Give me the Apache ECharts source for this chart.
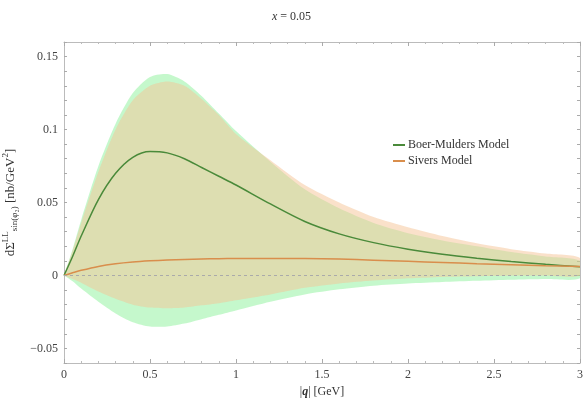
<!DOCTYPE html>
<html>
<head>
<meta charset="utf-8">
<script src="https://cdn.jsdelivr.net/npm/echarts@6/dist/echarts.min.js"></script>
<style>
  html, body { margin: 0; padding: 0; background: #fff; }
  #chart { width: 583px; height: 402px; }
</style>
</head>
<body>
<div id="chart"></div>
<script>
  // q values (GeV)
  const q = [0, 0.05, 0.1, 0.2, 0.3, 0.4, 0.5, 0.6, 0.7, 0.8, 0.9, 1.0, 1.2, 1.4, 1.6, 1.8, 2.0, 2.2, 2.4, 2.6, 2.8, 3.0];

  // Boer-Mulders model: central curve + band
  const bmMid = [0, 0.013, 0.027, 0.052, 0.070, 0.081, 0.085, 0.084, 0.080, 0.074, 0.068, 0.062, 0.049, 0.037, 0.0285, 0.0225, 0.018, 0.0145, 0.0118, 0.0095, 0.0076, 0.006];
  const bmHi  = [0, 0.018, 0.038, 0.075, 0.104, 0.125, 0.136, 0.138, 0.133, 0.123, 0.111, 0.099, 0.078, 0.059, 0.046, 0.036, 0.029, 0.024, 0.020, 0.016, 0.013, 0.010];
  const bmLo  = [0, -0.004, -0.009, -0.018, -0.026, -0.032, -0.035, -0.035, -0.033, -0.030, -0.027, -0.024, -0.018, -0.013, -0.0095, -0.007, -0.0055, -0.0045, -0.0037, -0.003, -0.0025, -0.002];

  // Sivers model: central curve + band
  const svMid = [0, 0.0018, 0.0035, 0.0062, 0.008, 0.0092, 0.010, 0.0106, 0.011, 0.0113, 0.0115, 0.0116, 0.0117, 0.0116, 0.0112, 0.0105, 0.0097, 0.0089, 0.0081, 0.0074, 0.0067, 0.0061];
  const svHi  = [0, 0.017, 0.036, 0.071, 0.100, 0.120, 0.130, 0.133, 0.130, 0.121, 0.110, 0.097, 0.079, 0.062, 0.050, 0.040, 0.033, 0.027, 0.022, 0.018, 0.015, 0.012];
  const svLo  = [0, -0.0025, -0.005, -0.011, -0.016, -0.020, -0.022, -0.0225, -0.022, -0.0205, -0.019, -0.017, -0.013, -0.0085, -0.0055, -0.0035, -0.002, -0.001, -0.0005, 0, 0, 0];

  const yLabels = [-0.05, 0, 0.05, 0.1, 0.15];

  const FONT = 'Liberation Serif';
  const pairs = ys => q.map((x, i) => [x, ys[i]]);

  // filled band between lo and hi, drawn once through the axis scales
  function band(lo, hi, color) {
    return {
      type: 'custom', silent: true, clip: true, z: 1,
      data: q.map((x, i) => [x, lo[i], hi[i]]),
      encode: { x: 0, y: [1, 2] },
      renderItem: (params, api) => {
        if (params.dataIndex !== 0) return;
        const top = q.map((x, i) => api.coord([x, hi[i]]));
        const bot = q.map((x, i) => api.coord([x, lo[i]])).reverse();
        return {
          type: 'polygon',
          shape: { points: top.concat(bot), smooth: 0.25 },
          style: { fill: color }
        };
      }
    };
  }

  const chart = echarts.init(document.getElementById('chart'));
  chart.setOption({
    animation: false,
    title: {
      text: '{i|x} = 0.05',
      left: 'center', top: 6,
      textStyle: {
        fontFamily: FONT, fontSize: 12, fontWeight: 'normal', color: '#333',
        rich: { i: { fontFamily: FONT, fontSize: 12, fontStyle: 'italic', color: '#333' } }
      }
    },
    legend: {
      data: ['Boer-Mulders Model', 'Sivers Model'],
      orient: 'vertical', left: 388, top: 134, itemGap: 4,
      itemWidth: 12, itemHeight: 2, icon: 'rect',
      textStyle: { fontFamily: FONT, fontSize: 12, color: '#333', padding: [0, 0, 0, -2] }
    },
    grid: { left: 64, right: 3, top: 42, bottom: 39, outerBoundsMode: 'none', containLabel: false },
    xAxis: [{
      type: 'value', min: 0, max: 3, interval: 0.5,
      name: '|{b|q}| [GeV]', nameLocation: 'middle', nameGap: 22,
      nameTextStyle: {
        fontFamily: FONT, fontSize: 12, color: '#333',
        rich: { b: { fontFamily: FONT, fontSize: 12, fontWeight: 'bold', fontStyle: 'italic', color: '#333' } }
      },
      axisLine: { show: true, onZero: false, lineStyle: { color: '#bbb' } },
      axisTick: { inside: true, length: 4, lineStyle: { color: '#aaa' } },
      minorTick: { show: true, splitNumber: 5, length: 2, lineStyle: { color: '#bbb' } },
      axisLabel: { fontFamily: FONT, fontSize: 12, color: '#444', margin: 6,
        formatter: v => String(Number(v.toFixed(2))) },
      splitLine: { show: false }
    }, {
      type: 'value', min: 0, max: 3, interval: 0.5, position: 'top',
      axisLine: { show: true, onZero: false, lineStyle: { color: '#bbb' } },
      axisTick: { inside: true, length: 4, lineStyle: { color: '#aaa' } },
      minorTick: { show: true, splitNumber: 5, length: 2, lineStyle: { color: '#bbb' } },
      axisLabel: { show: false }, splitLine: { show: false }
    }],
    yAxis: [{
      type: 'value', min: -0.06, max: 0.16, interval: 0.01,
      name: '{n|dΣ}{sp|LL}{sb|sin(φ₂)}{n| [nb/GeV}{sp|2}{n|]}',
      nameLocation: 'middle', nameGap: 25, nameRotate: 90,
      nameTextStyle: {
        fontFamily: FONT, fontSize: 13, color: '#333',
        rich: {
          n: { fontFamily: FONT, fontSize: 13, color: '#333', lineHeight: 18 },
          sp: { fontFamily: FONT, fontSize: 9, color: '#333', lineHeight: 18, verticalAlign: 'top' },
          sb: { fontFamily: FONT, fontSize: 9, color: '#333', lineHeight: 18, verticalAlign: 'bottom' }
        }
      },
      axisLine: { show: true, onZero: false, lineStyle: { color: '#bbb' } },
      axisTick: { inside: true, length: 3, lineStyle: { color: '#aaa' } },
      axisLabel: {
        fontFamily: FONT, fontSize: 12, color: '#444', margin: 6,
        formatter: v => {
          const hit = yLabels.find(t => Math.abs(t - v) < 1e-6);
          return hit === undefined ? '' : String(hit).replace('-', '−');
        }
      },
      splitLine: { show: false }
    }, {
      type: 'value', min: -0.06, max: 0.16, interval: 0.01, position: 'right',
      axisLine: { show: true, onZero: false, lineStyle: { color: '#bbb' } },
      axisTick: { inside: true, length: 3, lineStyle: { color: '#aaa' } },
      axisLabel: { show: false }, splitLine: { show: false }
    }],
    series: [
      band(bmLo, bmHi, 'rgba(90,235,110,0.35)'),
      band(svLo, svHi, 'rgba(245,195,150,0.5)'),
      {
        name: 'Boer-Mulders Model', type: 'line', data: pairs(bmMid), symbol: 'none', smooth: 0.3,
        color: '#4a8a3a', lineStyle: { width: 1.5, color: '#4a8a3a' }, z: 3,
        markLine: {
          silent: true, symbol: 'none', label: { show: false },
          lineStyle: { type: [3, 3], color: '#aaa', width: 1 },
          data: [{ yAxis: 0 }]
        }
      },
      {
        name: 'Sivers Model', type: 'line', data: pairs(svMid), symbol: 'none', smooth: 0.3,
        color: '#d98e4c', lineStyle: { width: 1.5, color: '#d98e4c' }, z: 3
      }
    ]
  });
</script>
</body>
</html>
